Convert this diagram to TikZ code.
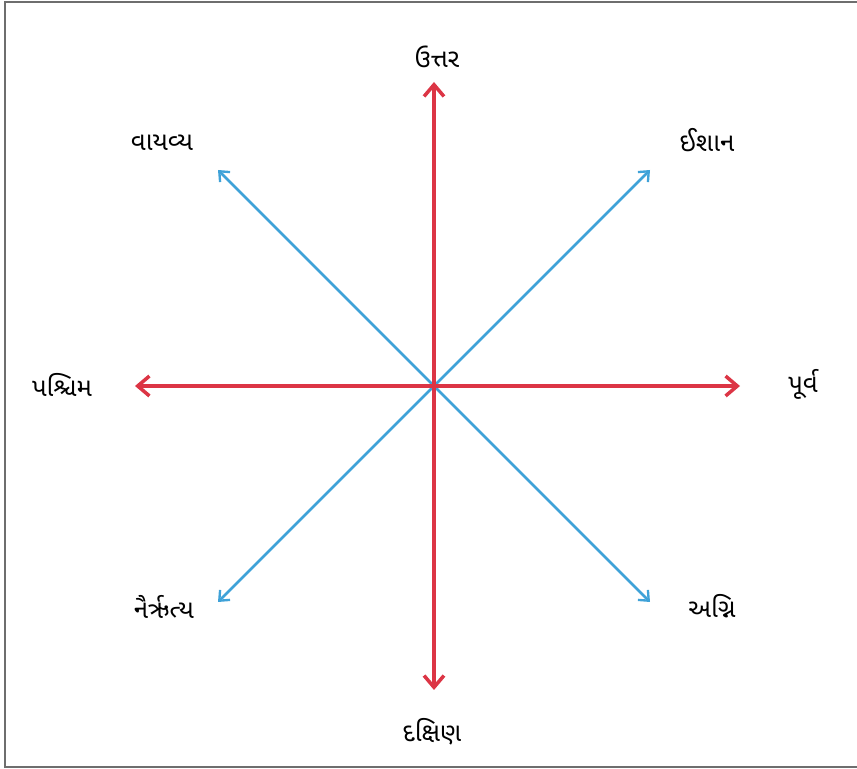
\documentclass[tikz,border=0pt]{standalone}
\usepackage{fontspec}
\newfontfamily\gujfont[Script=Gujarati]{Noto Sans Gujarati UI}
\usepackage{tikz}
\usetikzlibrary{arrows.meta}
\usepackage{xcolor}
\definecolor{dirMain}{HTML}{DC3545}
\definecolor{dirSub}{HTML}{3FA2D8}
\definecolor{dirFrame}{HTML}{6E6E6E}
\tikzset{
    mainarrow/.style={-{Straight Barb[length=10pt,width=17pt,line width=3pt]},line width=3.2pt,dirMain},
    subarrow/.style={-{Straight Barb[length=7pt,width=12pt,line width=2pt]},line width=2.3pt,dirSub},
    dirlabel/.style={font=\gujfont\fontsize{22}{26}\selectfont,text=black,inner sep=1pt}
}

\begin{document}
\begin{tikzpicture}[x=0.03cm,y=-0.03cm]
\useasboundingbox (0,0) rectangle (857,769);

% Frame (right side runs off the page)
\draw[dirFrame,line width=2pt] (870,2) -- (5,2) -- (5,767) -- (870,767);

% Centre and arrow ends
\coordinate (c) at (434,386);
\coordinate (n) at (434,82);
\coordinate (s) at (434,690);
\coordinate (w) at (135,386);
\coordinate (e) at (740,386);
\coordinate (ne) at (650,170);
\coordinate (nw) at (218,170);
\coordinate (sw) at (218,602);
\coordinate (se) at (650,602);

% Intermediate directions
\draw[subarrow] (c) -- (ne);
\draw[subarrow] (c) -- (nw);
\draw[subarrow] (c) -- (sw);
\draw[subarrow] (c) -- (se);

% Main directions
\draw[mainarrow] (c) -- (n);
\draw[mainarrow] (c) -- (s);
\draw[mainarrow] (c) -- (w);
\draw[mainarrow] (c) -- (e);

% Labels
\node[dirlabel] (north) at (437,57) {ઉત્તર};
\node[dirlabel] (northeast) at (707,140) {ઈશાન};
\node[dirlabel] (east) at (803,384) {પૂર્વ};
\node[dirlabel] (southeast) at (712,606) {અગ્નિ};
\node[dirlabel] (south) at (432,732) {દક્ષિણ};
\node[dirlabel] (southwest) at (164,607) {નૈર્ઋત્ય};
\node[dirlabel] (west) at (62,385) {પશ્ચિમ};
\node[dirlabel] (northwest) at (162,143) {વાયવ્ય};

\end{tikzpicture}
\end{document}
